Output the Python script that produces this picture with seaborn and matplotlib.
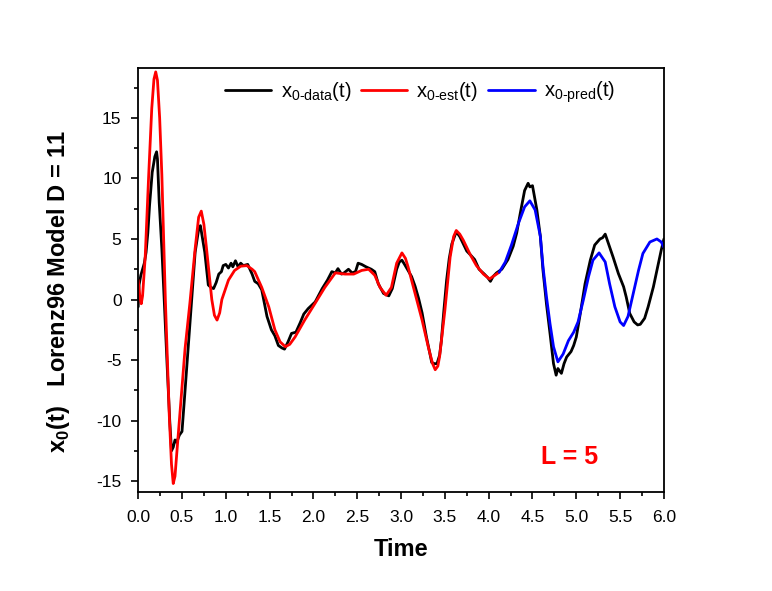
import numpy as np
import pandas as pd
import matplotlib
matplotlib.use('Agg')
import matplotlib.pyplot as plt
from matplotlib.ticker import MultipleLocator, FormatStrFormatter
import seaborn as sns

# ----------------------- values -----------------------------------------------
t_data = [0.00, 0.01, 0.03, 0.05, 0.07, 0.09, 0.11, 0.13, 0.16, 0.19, 0.21, 0.22, 0.24, 0.27, 0.30,
          0.33, 0.36, 0.38, 0.40, 0.42, 0.44, 0.47, 0.50, 0.53, 0.57, 0.61, 0.65, 0.69, 0.71, 0.73,
          0.76, 0.80, 0.83, 0.86, 0.89, 0.92, 0.95, 0.97, 1.00, 1.03, 1.06, 1.08, 1.11, 1.14, 1.17,
          1.20, 1.25, 1.30, 1.33, 1.37, 1.41, 1.47, 1.52, 1.56, 1.60, 1.64, 1.67, 1.71, 1.75, 1.80,
          1.85, 1.89, 1.94, 2.02, 2.10, 2.16, 2.21, 2.25, 2.28, 2.32, 2.35, 2.40, 2.44, 2.48, 2.51,
          2.55, 2.60, 2.66, 2.70, 2.74, 2.80, 2.86, 2.90, 2.95, 2.98, 3.01, 3.04, 3.08, 3.12, 3.16,
          3.20, 3.24, 3.29, 3.35, 3.38, 3.41, 3.44, 3.46, 3.49, 3.52, 3.55, 3.58, 3.63, 3.67, 3.71,
          3.75, 3.79, 3.84, 3.89, 3.95, 3.99, 4.02, 4.05, 4.09, 4.15, 4.22, 4.28, 4.32, 4.36, 4.41,
          4.45, 4.47, 4.50, 4.55, 4.59, 4.62, 4.66, 4.70, 4.74, 4.77, 4.79, 4.81, 4.83, 4.86, 4.89,
          4.94, 4.97, 5.00, 5.04, 5.10, 5.16, 5.21, 5.27, 5.30, 5.33, 5.38, 5.42, 5.48, 5.54, 5.57,
          5.61, 5.66, 5.70, 5.73, 5.78, 5.82, 5.88, 5.92, 5.97, 6.00]
x_data = [-0.6, 1.2, 2.0, 2.5, 3.0, 3.9, 5.5, 7.8, 10.5, 11.8, 12.2, 11.6, 8.0, 4.2, -0.5,
          -5.4, -10.0, -12.5, -12.2, -11.6, -11.8, -11.2, -10.9, -8.0, -4.0, 0.0, 3.9, 5.8, 6.1, 5.2,
          3.9, 1.2, 1.0, 0.9, 1.4, 2.1, 2.3, 2.8, 2.9, 2.6, 3.0, 2.7, 3.2, 2.7, 3.0,
          2.8, 2.9, 2.1, 1.5, 1.3, 0.8, -1.4, -2.5, -3.0, -3.8, -4.0, -4.1, -3.5, -2.8, -2.7,
          -1.9, -1.2, -0.75, -0.2, 0.9, 1.6, 2.3, 2.2, 2.55, 2.1, 2.2, 2.5, 2.2, 2.3, 3.0,
          2.9, 2.7, 2.5, 2.3, 1.3, 0.5, 0.3, 0.9, 2.5, 3.1, 3.25, 2.9, 2.4, 1.9, 1.1,
          0.1, -1.1, -3.1, -5.2, -5.3, -5.3, -4.6, -3.4, -0.8, 1.6, 3.4, 4.6, 5.6, 5.2, 4.6,
          4.0, 3.7, 3.3, 2.5, 2.1, 1.8, 1.5, 1.9, 2.2, 2.5, 3.3, 4.4, 5.5, 7.1, 9.0,
          9.6, 9.3, 9.4, 7.4, 5.2, 2.4, -0.4, -2.8, -5.3, -6.25, -5.7, -5.9, -6.1, -5.3, -4.75,
          -4.3, -3.8, -3.1, -1.4, 1.3, 3.25, 4.5, 5.0, 5.1, 5.4, 4.35, 3.5, 2.15, 1.05, 0.2,
          -1.15, -1.85, -2.1, -2.05, -1.55, -0.6, 1.05, 2.4, 4.1, 5.0]

t_est = [0.00, 0.02, 0.035, 0.05, 0.08, 0.12, 0.155, 0.18, 0.20, 0.22, 0.245, 0.27, 0.31, 0.355,
         0.38, 0.40, 0.42, 0.46, 0.535, 0.59, 0.65, 0.69, 0.72, 0.75, 0.78, 0.84, 0.87, 0.90, 0.93,
         0.955, 1.03, 1.10, 1.17, 1.24, 1.30, 1.33, 1.41, 1.49, 1.56, 1.62, 1.68, 1.73, 1.79, 1.90,
         2.02, 2.13, 2.25, 2.36, 2.46, 2.55, 2.63, 2.70, 2.76, 2.83, 2.89, 2.95, 3.01, 3.05, 3.08,
         3.16, 3.24, 3.31, 3.36, 3.39, 3.42, 3.44, 3.50, 3.56, 3.60, 3.63, 3.67, 3.71, 3.79, 3.86,
         3.94, 4.01, 4.07, 4.12]
x_est = [1.6, 0.2, -0.35, 0.3, 3.5, 10.3, 15.8, 18.2, 18.8, 18.1, 15.0, 10.3, 0.0, -9.6,
         -13.6, -15.2, -14.6, -10.9, -4.05, -0.3, 4.2, 6.8, 7.3, 6.2, 4.2, 0.0, -1.3, -1.7, -1.1,
         0.0, 1.6, 2.4, 2.75, 2.8, 2.5, 2.3, 1.0, -0.6, -2.5, -3.5, -3.9, -3.7, -3.1, -1.7,
         -0.3, 1.0, 2.2, 2.1, 2.1, 2.4, 2.5, 2.0, 1.0, 0.35, 1.0, 3.0, 3.85, 3.4, 2.7,
         0.5, -1.7, -3.9, -5.3, -5.8, -5.5, -4.7, -0.9, 3.5, 5.2, 5.7, 5.4, 4.9, 3.7, 2.8,
         2.1, 1.7, 2.0, 2.25]

t_pred = [4.12, 4.19, 4.26, 4.34, 4.41, 4.47, 4.53, 4.59, 4.62, 4.66, 4.70, 4.74, 4.79, 4.85,
          4.91, 4.97, 5.02, 5.08, 5.14, 5.19, 5.26, 5.33, 5.38, 5.44, 5.50, 5.54, 5.59, 5.65,
          5.71, 5.76, 5.84, 5.92, 5.97, 6.00]
x_pred = [2.25, 3.1, 4.5, 6.3, 7.65, 8.15, 7.4, 5.2, 2.7, 0.2, -2.0, -3.9, -5.15, -4.5,
          -3.4, -2.7, -1.85, -0.05, 1.9, 3.25, 3.85, 3.1, 1.3, -0.6, -1.85, -2.15, -1.4, 0.5,
          2.4, 3.8, 4.75, 5.0, 4.75, 4.3]

labels = ['x$_{\\mathregular{0\u2010data}}$(t)', 'x$_{\\mathregular{0\u2010est}}$(t)',
          'x$_{\\mathregular{0\u2010pred}}$(t)']
colors = ['black', 'red', 'blue']

sns.set_style("ticks")
plt.rcParams['font.family'] = ['Liberation Sans', 'DejaVu Sans']
plt.rcParams['axes.unicode_minus'] = False
plt.rcParams.update({'text.color': 'black', 'axes.labelcolor': 'black',
                     'xtick.color': 'black', 'ytick.color': 'black'})

df = pd.concat([
    pd.DataFrame({'Time': t_data, 'val': x_data, 'series': labels[0]}),
    pd.DataFrame({'Time': t_est, 'val': x_est, 'series': labels[1]}),
    pd.DataFrame({'Time': t_pred, 'val': x_pred, 'series': labels[2]}),
], ignore_index=True)

fig = plt.figure(figsize=(7.72, 5.91), dpi=100)
ax = fig.add_axes([0.179, 0.1675, 0.681, 0.717])

sns.lineplot(data=df, x='Time', y='val', hue='series', palette=colors, hue_order=labels,
             sort=False, estimator=None, linewidth=2.0, ax=ax)

ax.set(xlim=(0, 6), ylim=(-15.9, 19.1))
ax.xaxis.set_major_locator(MultipleLocator(0.5))
ax.xaxis.set_minor_locator(MultipleLocator(0.25))
ax.xaxis.set_major_formatter(FormatStrFormatter('%.1f'))
ax.yaxis.set_major_locator(MultipleLocator(5))
ax.yaxis.set_minor_locator(MultipleLocator(2.5))
ax.tick_params(which='major', direction='out', length=5, width=1.2, labelsize=12.5)
ax.tick_params(which='minor', direction='out', length=3, width=1.2)
ax.tick_params(axis='x', pad=8)
ax.tick_params(axis='y', pad=7)
for sp in ax.spines.values():
    sp.set_visible(True)
    sp.set_linewidth(1.3)
    sp.set_color('black')

ax.set_xlabel('Time', fontsize=17, fontweight='bold', labelpad=9)
ax.set_ylabel(r'x$_\mathregular{0}$(t)   Lorenz96 Model D = 11', fontsize=17, fontweight='bold')
ax.yaxis.set_label_coords(-0.125, 0.474)

ax.legend(loc='center', bbox_to_anchor=(0.536, 0.943), ncol=3, frameon=False, fontsize=14.5,
          handlelength=2.3, handletextpad=0.45, columnspacing=0.5, borderaxespad=0)

ax.text(0.821, 0.083, 'L = 5', color='red', fontsize=18, fontweight='bold', ha='center', va='center',
        transform=ax.transAxes)

fig.savefig('out.png', dpi=100)
